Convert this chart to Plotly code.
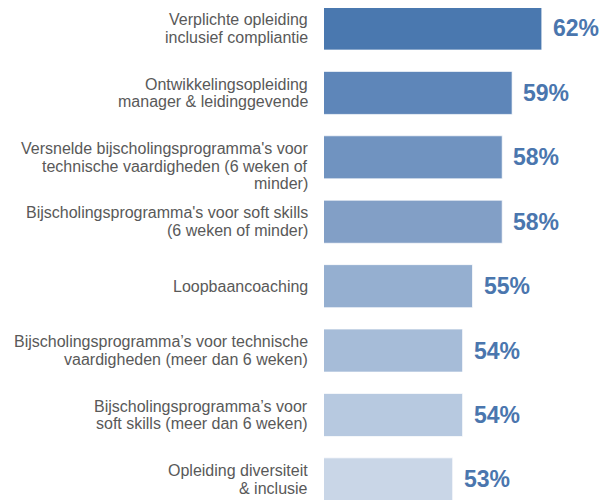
import plotly.graph_objects as go

categories = [
    "Verplichte opleiding<br>inclusief compliantie",
    "Ontwikkelingsopleiding<br>manager & leidinggevende",
    "Versnelde bijscholingsprogramma's voor<br>technische vaardigheden (6 weken of<br>minder)",
    "Bijscholingsprogramma's voor soft skills<br>(6 weken of minder)",
    "Loopbaancoaching",
    "Bijscholingsprogramma’s voor technische<br>vaardigheden (meer dan 6 weken)",
    "Bijscholingsprogramma’s voor<br>soft skills (meer dan 6 weken)",
    "Opleiding diversiteit<br>& inclusie",
]
values = [62, 59, 58, 58, 55, 54, 54, 53]
value_labels = ["62%", "59%", "58%", "58%", "55%", "54%", "54%", "53%"]

bar_colors = ["#4A78AF", "#5E86B9", "#7093C0", "#829FC6",
              "#95AFD0", "#A6BCD8", "#B7C9E0", "#C9D6E7"]

ypos = list(range(len(categories)))

fig = go.Figure(go.Bar(
    x=values,
    y=ypos,
    orientation="h",
    marker=dict(color=bar_colors, line=dict(color="rgba(255,255,255,0.7)", width=1)),
    hoverinfo="skip",
))

annotations = []
FONT = "Liberation Sans, Arial, sans-serif"
LINE = 17.7
for yi, (cat, v, lab) in enumerate(zip(categories, values, value_labels)):
    annotations.append(dict(
        x=v, y=yi, xref="x", yref="y", text=f"<b>{lab}</b>",
        xanchor="left", yanchor="middle", xshift=9, showarrow=False,
        font=dict(family=FONT, size=23, color="#4A76AE"),
    ))
    lines = cat.split("<br>")
    n = len(lines)
    center = (min(n, 2) - 1) / 2
    for li, line in enumerate(lines):
        annotations.append(dict(
            x=0, y=yi, xref="paper", yref="y", text=line,
            xanchor="right", yanchor="middle", xshift=-14,
            yshift=-(li - center) * LINE, showarrow=False,
            font=dict(family=FONT, size=16, color="#595959"),
        ))

fig.update_layout(
    width=603, height=492,
    margin=dict(l=316, r=0, t=0, b=0),
    paper_bgcolor="white", plot_bgcolor="white",
    bargap=0.332,
    showlegend=False,
    xaxis=dict(range=[40, 68.99], visible=False, fixedrange=True),
    yaxis=dict(range=[7.32, -0.318], visible=False, fixedrange=True),
    annotations=annotations,
)

fig.write_html("out.html")
